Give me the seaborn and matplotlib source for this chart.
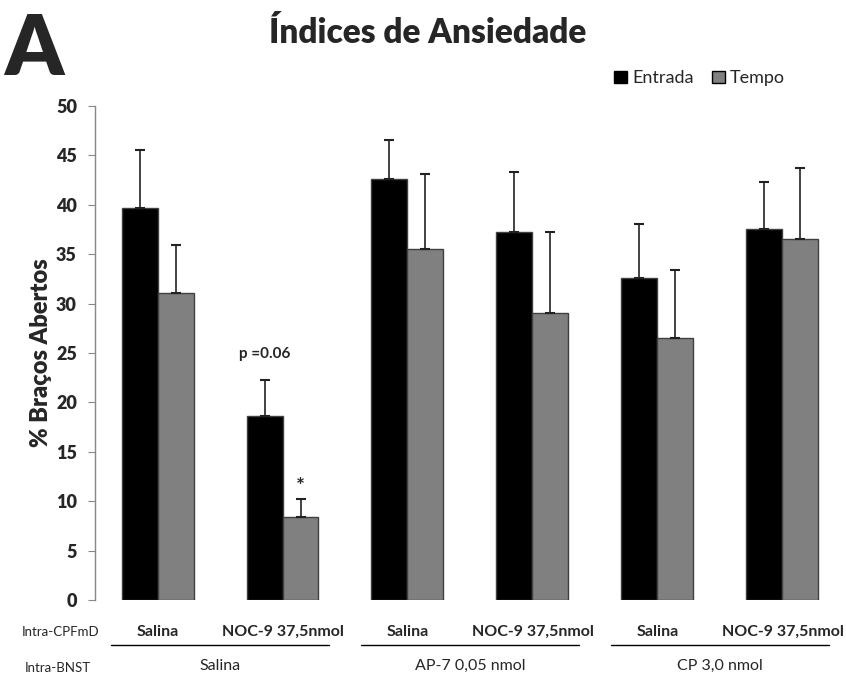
import pandas as pd
import seaborn as sns
import matplotlib.pyplot as plt

# values
grupos = ["g1", "g2", "g3", "g4", "g5", "g6"]
rotulos_cpf = ["Salina", "NOC-9 37,5nmol"] * 3
rotulos_bnst = ["Salina", "AP-7 0,05 nmol", "CP 3,0 nmol"]
entrada = [39.7, 18.6, 42.6, 37.3, 32.6, 37.6]
entrada_ep = [5.9, 3.7, 4.0, 6.0, 5.5, 4.7]
tempo = [31.1, 8.4, 35.5, 29.1, 26.5, 36.5]
tempo_ep = [4.8, 1.8, 7.6, 8.2, 6.9, 7.2]

df = pd.DataFrame({
    "grupo": grupos * 2,
    "valor": entrada + tempo,
    "medida": ["Entrada"] * 6 + ["Tempo"] * 6,
})

sns.set_style("white")
plt.rcParams["font.family"] = ["Lato", "DejaVu Sans"]

fig = plt.figure(figsize=(8.46, 6.81), dpi=100)
ax = fig.add_axes([0.1123, 0.1189, 0.8865, 0.7254])

sns.barplot(data=df, x="grupo", y="valor", hue="medida",
            palette={"Entrada": "black", "Tempo": "#808080"},
            width=0.576, errorbar=None, edgecolor="#404040", linewidth=1,
            ax=ax)

# upper error bars only
for cont, erros in zip(ax.containers, [entrada_ep, tempo_ep]):
    for barra, e in zip(cont, erros):
        x = barra.get_x() + barra.get_width() / 2
        ax.errorbar(x, barra.get_height(), yerr=[[0], [e]], fmt="none",
                    ecolor="#222222", elinewidth=1.2, capsize=3.5, capthick=1.5)

ax.set_xlim(-0.5, 5.5)
ax.set_ylim(0, 50)
ax.set_yticks(range(0, 51, 5))
ax.set_yticklabels([str(v) for v in range(0, 51, 5)], fontsize=13, fontweight="heavy")
ax.set_ylabel("% Braços Abertos", fontsize=17, fontweight="heavy", labelpad=3)
ax.set_xlabel("")
ax.set_xticks(range(6))
ax.set_xticklabels(rotulos_cpf, fontsize=11.5, fontweight="bold")
ax.tick_params(axis="x", length=0, pad=18)
ax.tick_params(axis="y", length=5, color="#888888", direction="out", left=True, pad=8)
for lado in ["top", "right", "bottom"]:
    ax.spines[lado].set_visible(False)
ax.spines["left"].set_color("#888888")
ax.spines["left"].set_linewidth(1)

# annotations
ax.text(1 - 0.144, 24.9, "p =0.06", ha="center", va="center", fontsize=11, fontweight="bold")
ax.text(1 + 0.144, 11.4, "*", ha="center", va="center", fontsize=15, fontweight="bold")

# lower grouping lines and labels
trans = ax.get_xaxis_transform()
for i, rot in enumerate(rotulos_bnst):
    centro = 2 * i + 0.5
    ax.plot([centro - 0.87, centro + 0.87], [-0.091, -0.091], color="black",
            lw=1, transform=trans, clip_on=False)
    ax.text(centro, -0.134, rot, transform=trans, ha="center", va="center", fontsize=11.5)

fig.text(61 / 846, 1 - 632 / 681, "Intra-CPFmD", ha="center", va="center", fontsize=9.5)
fig.text(58 / 846, 1 - 668 / 681, "Intra-BNST", ha="center", va="center", fontsize=9.5)

# legend
leg = ax.legend(loc="center", bbox_to_anchor=(0.827, 0.885), bbox_transform=fig.transFigure,
                ncol=2, frameon=False, fontsize=13, handlelength=0.7, handleheight=0.7,
                handletextpad=0.3, columnspacing=1.0)
for h in leg.legend_handles:
    h.set_edgecolor("black")

fig.text(0.506, 1 - 33 / 681, "Índices de Ansiedade", ha="center", va="center",
         fontsize=24, fontweight="heavy")
fig.text(4 / 846, 1 - 75 / 681, "A", ha="left", va="baseline", fontsize=60,
         fontweight="heavy")

fig.savefig("out.png", dpi=100)
